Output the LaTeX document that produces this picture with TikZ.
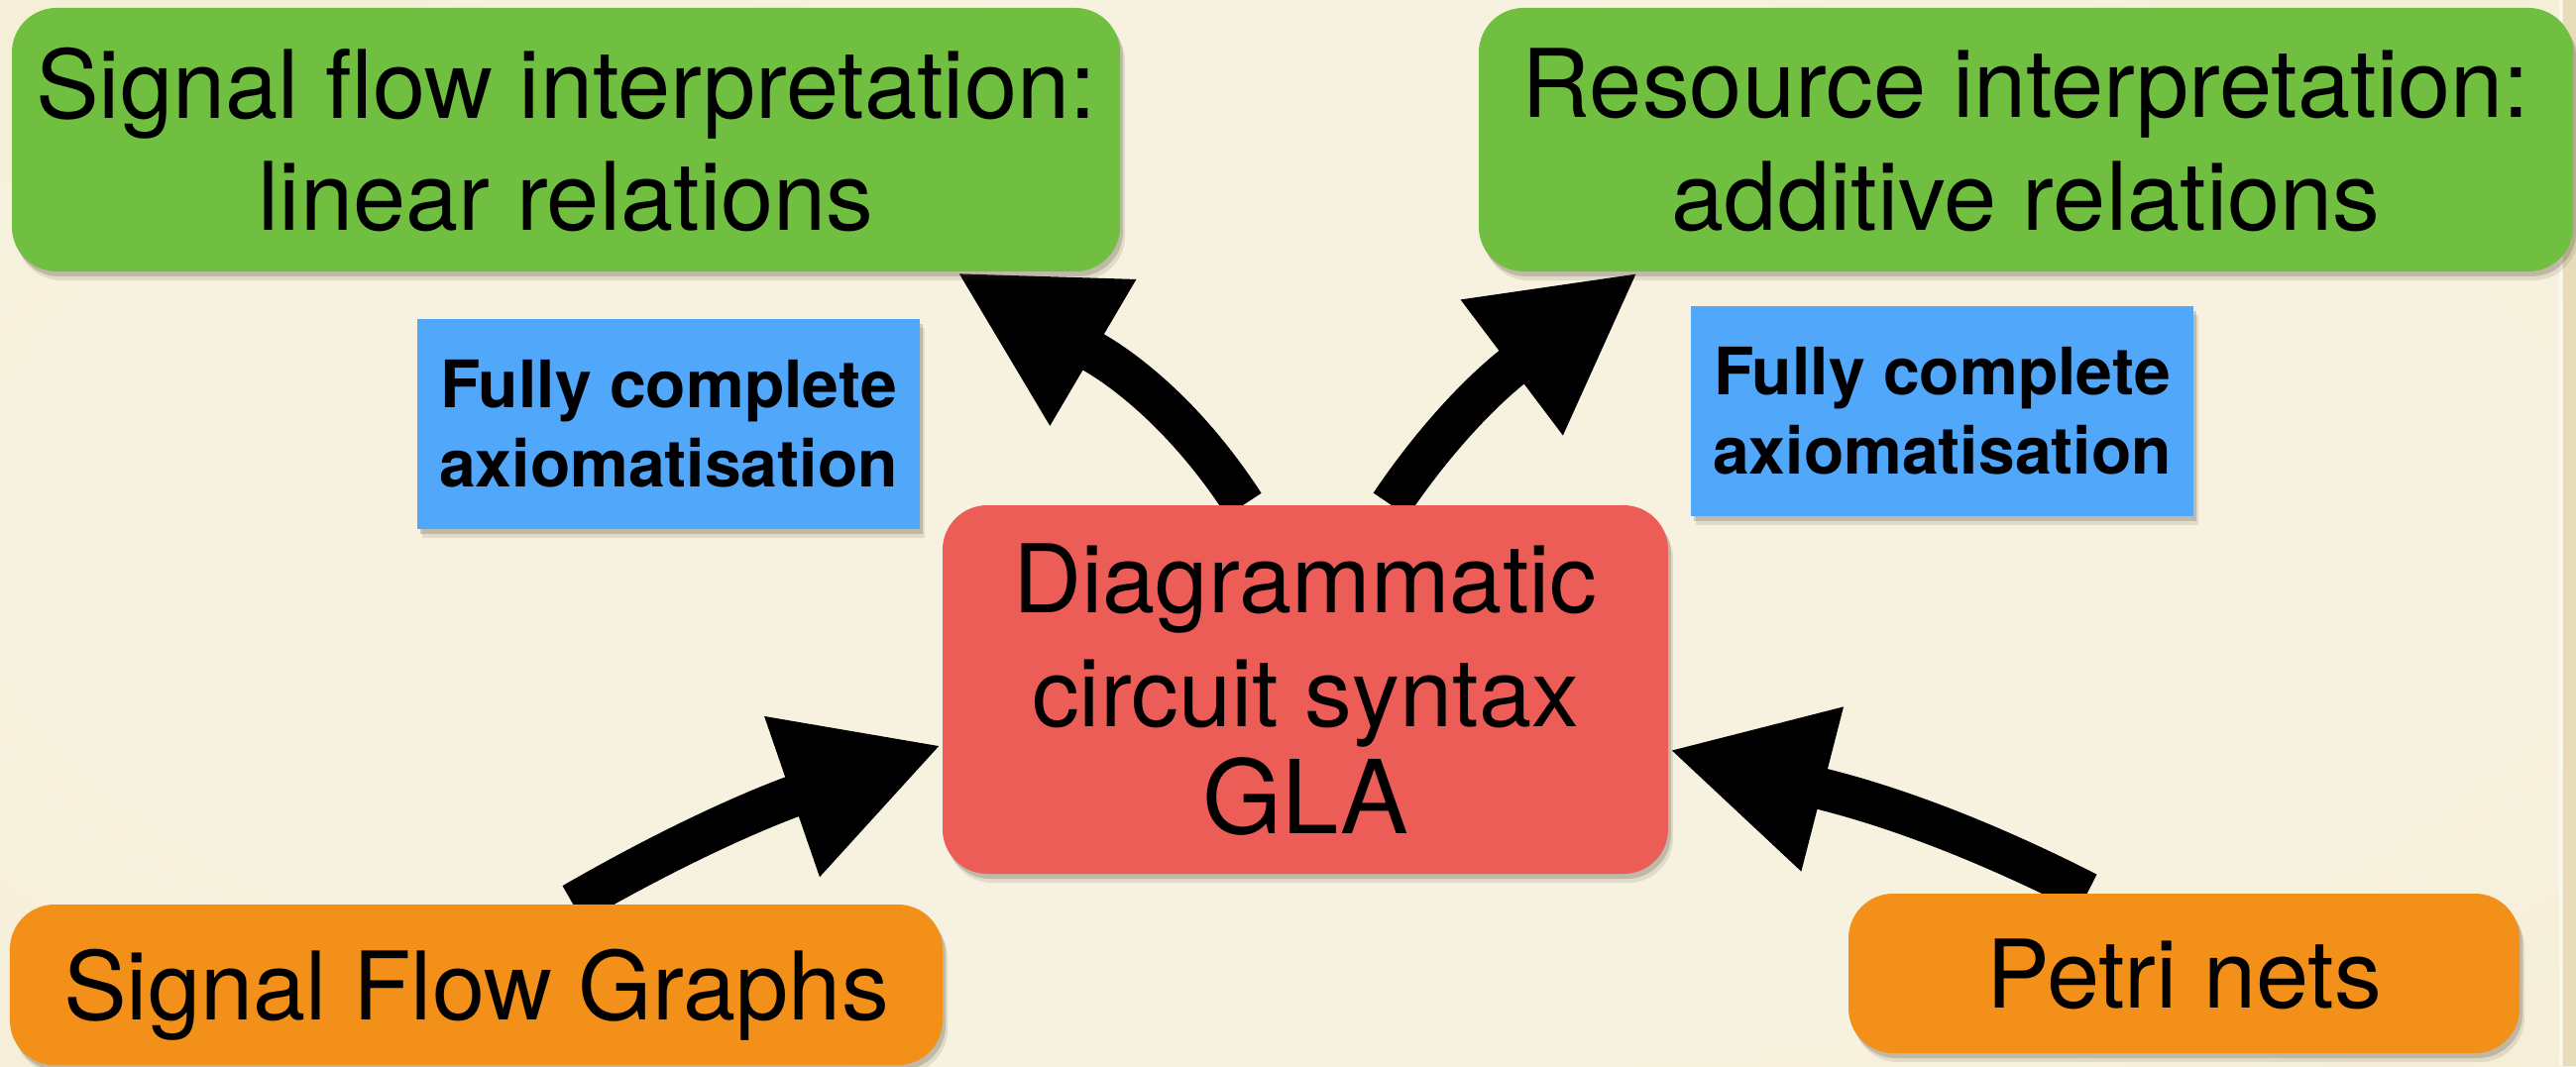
\documentclass[tikz,border=0pt]{standalone}
\usepackage{fontspec}
\setmainfont{TeX Gyre Heros}
\usetikzlibrary{arrows.meta,shadows}
\pgfdeclarelayer{bg}
\pgfdeclarelayer{arrowlayer}
\pgfsetlayers{bg,arrowlayer,main}
\definecolor{kgreen}{HTML}{70BF41}
\definecolor{kblue}{HTML}{51A7F9}
\definecolor{kred}{HTML}{EC5D57}
\definecolor{korange}{HTML}{F39019}
\definecolor{paperin}{HTML}{F7F2DF}
\definecolor{papermid}{HTML}{F1E9CD}
\definecolor{paperout}{HTML}{E7DCB9}
\definecolor{shadowc}{HTML}{4A4030}
\pgfdeclareradialshading{paper}{\pgfpoint{0bp}{0bp}}{color(0bp)=(paperin); color(25bp)=(paperin); color(50bp)=(papermid); color(72bp)=(paperout)}
\begin{document}
\begin{tikzpicture}[
  softshadow/.style={
    drop shadow={shadow xshift=0.05cm, shadow yshift=-0.09cm, fill=shadowc, opacity=0.12},
    drop shadow={shadow xshift=0.03cm, shadow yshift=-0.05cm, fill=shadowc, opacity=0.22}},
  box/.style={inner sep=0pt, align=center, text=black, softshadow},
  interp/.style={box, fill=kgreen, rounded corners=0.45cm, minimum height=2.66cm,
    font=\fontsize{27.2}{32.4}\selectfont},
  claim/.style={box, fill=kblue, minimum width=5.07cm, minimum height=2.12cm,
    font=\bfseries\fontsize{18.8}{22.8}\selectfont},
  syntax/.style={box, fill=kred, rounded corners=0.45cm,
    font=\fontsize{27.2}{32.7}\selectfont},
  source/.style={box, fill=korange, rounded corners=0.45cm, minimum height=1.62cm,
    text depth=0pt, font=\fontsize{27.2}{32.4}\selectfont},
  bigarrow/.style={line width=0.42cm, draw=black, -{Triangle[length=1.6cm, width=1.59cm]}}
]
\useasboundingbox (0,0) rectangle (25.99,10.76);
\begin{pgfonlayer}{bg}
\fill[papermid] (0,0) rectangle (25.99,10.76);
\shade[shading=paper] (0,0) rectangle (25.99,10.76);
\fill[paperout] (25.86,0) rectangle (25.99,10.76);
\fill[white, opacity=0.5] (25.82,0) rectangle (25.85,10.76);
\end{pgfonlayer}

\node[interp, minimum width=11.18cm] (lin) at (5.71,9.35) {Signal flow interpretation:\\linear relations};
\node[interp, minimum width=11.04cm] (add) at (20.44,9.35) {Resource interpretation:\\additive relations};
\node[claim] (ax1) at (6.745,6.48) {Fully complete\\axiomatisation};
\node[claim] (ax2) at (19.595,6.61) {Fully complete\\axiomatisation};
\node[syntax, minimum width=7.32cm, minimum height=3.72cm] (gla) at (13.17,3.80)
  {Diagrammatic\\circuit syntax\\[-2pt]{\fontsize{29.3}{32.7}\selectfont GLA}};
\node[source, minimum width=9.41cm] (sfg) at (4.805,0.82) {Signal Flow Graphs};
\node[source, minimum width=6.77cm, minimum height=1.61cm] (petri) at (22.035,0.935) {Petri nets};

\begin{pgfonlayer}{arrowlayer}
\draw[bigarrow] ([xshift=-0.62cm]gla.north) to[out=123,in=-30.5] ([xshift=3.94cm]lin.south);
\draw[bigarrow] ([xshift=0.86cm]gla.north) to[out=56,in=217] ([xshift=-3.91cm]add.south);
\draw[bigarrow] ([xshift=0.975cm]sfg.north) to[out=30,in=199] ([yshift=-0.56cm]gla.west);
\draw[bigarrow] ([xshift=-0.975cm]petri.north) to[out=153,in=-14.4] ([yshift=-0.607cm]gla.east);
\end{pgfonlayer}
\end{tikzpicture}
\end{document}
